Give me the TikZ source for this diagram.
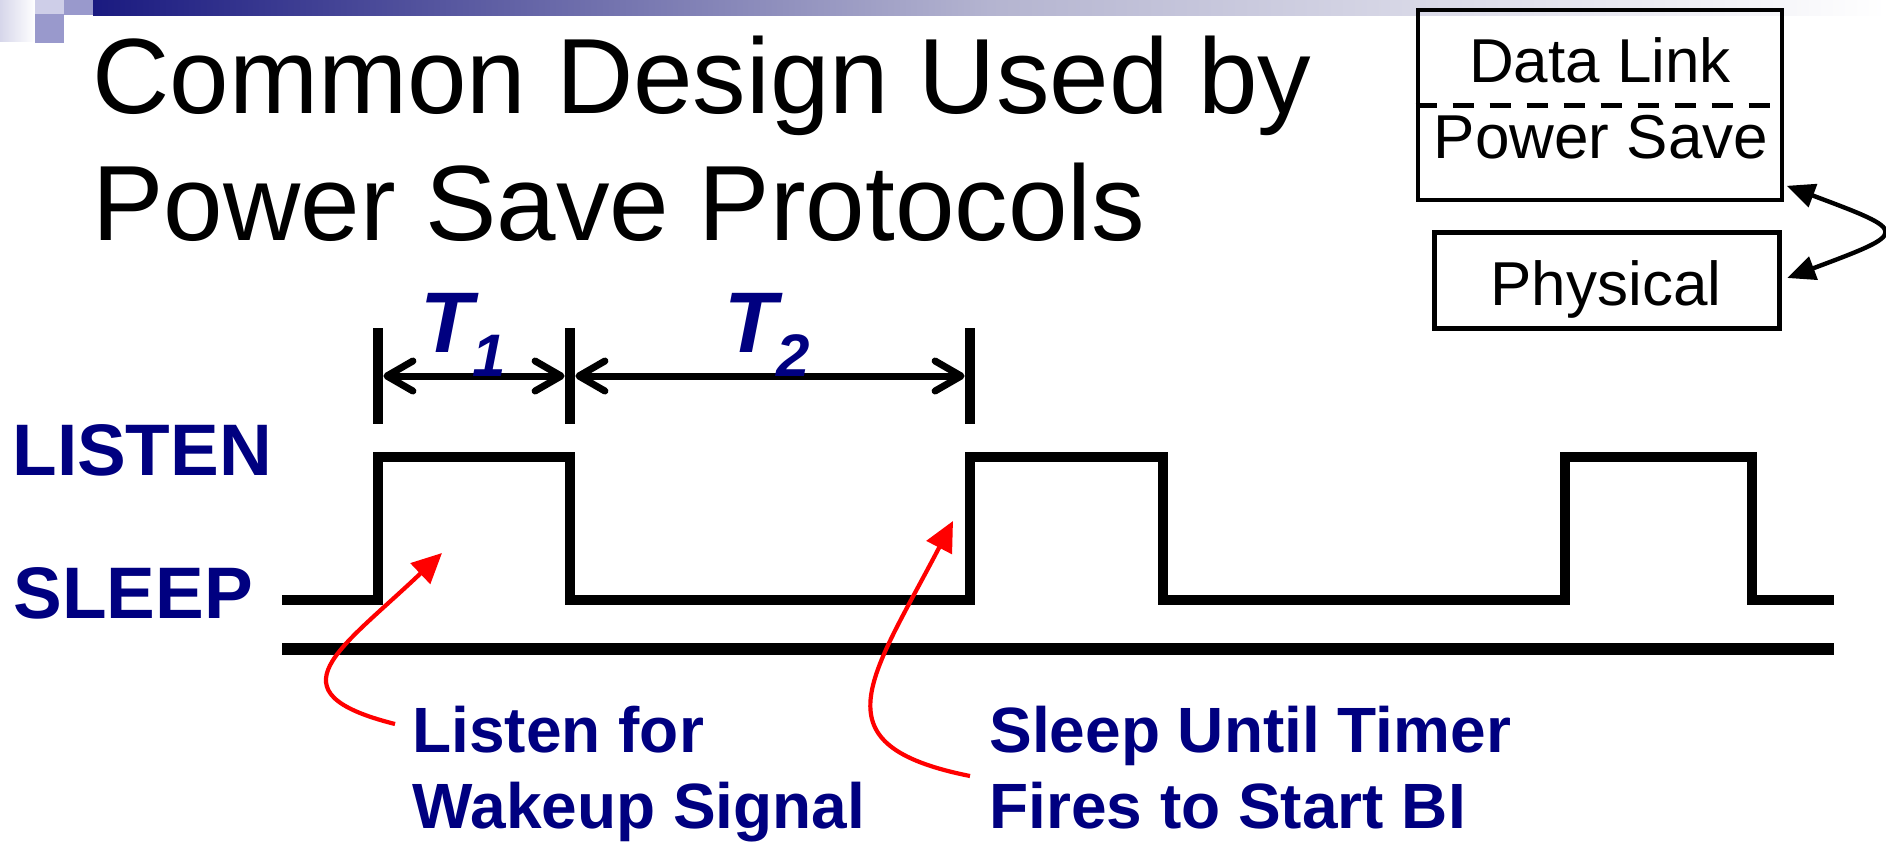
\documentclass[tikz,border=0pt]{standalone}
\usepackage{fontspec}
\setmainfont{Liberation Sans}
\usetikzlibrary{arrows.meta}

\definecolor{slidenavy}{RGB}{0,0,128}
\definecolor{barnavy}{RGB}{26,26,128}
\definecolor{barmid}{RGB}{180,180,208}
\definecolor{tilelight}{RGB}{206,206,232}
\definecolor{tiledark}{RGB}{153,153,204}
\definecolor{tilefade}{RGB}{214,214,234}

\begin{document}
\begin{tikzpicture}[
    x=0.5pt, y=-0.5pt,
    heading/.style={font=\fontsize{53.5}{64}\selectfont, inner sep=0, anchor=base west},
    layer/.style={draw, line width=2.3pt, inner sep=0},
    layertext/.style={font=\fontsize{31}{36}\selectfont, inner sep=0, anchor=base},
    statelabel/.style={font=\fontsize{36.5}{44}\selectfont\bfseries, text=slidenavy,
                       inner sep=0, anchor=base west},
    periodlabel/.style={font=\fontsize{43}{48}\selectfont\bfseries\itshape, text=slidenavy,
                        inner sep=0, anchor=base west},
    callout/.style={font=\fontsize{32}{38}\selectfont\bfseries, text=slidenavy, align=left,
                    inner sep=0, anchor=base west},
    wave/.style={line width=5.25pt},
    tickline/.style={line width=5.3pt},
    dimline/.style={line width=3.5pt,
                    {Straight Barb[round, length=13pt, width=15pt]}-{Straight Barb[round, length=13pt, width=15pt]},
                    shorten <=2.7pt, shorten >=2.7pt},
    hint/.style={red, line width=2.1pt, -{Triangle[length=15pt, width=14pt]}},
    swap/.style={line width=2.2pt, {Triangle[length=14pt, width=12pt]}-{Triangle[length=14pt, width=12pt]}}
  ]
  \useasboundingbox (0,0) rectangle (1886,842);

  % slide decoration
  \shade[left color=tilefade, right color=white] (0,0) rectangle (35,41);
  \fill[tilelight] (35,0) rectangle (64,14);
  \fill[tiledark] (64,0) rectangle (93,15);
  \fill[tiledark] (35,14) rectangle (64,43);
  \shade[left color=barnavy, right color=white, middle color=barmid] (93,0) rectangle (1886,15);

  \node[heading] (title1) at (92,113) {Common Design Used by};
  \node[heading] (title2) at (92,240) {Power Save Protocols};

  % layer stack
  \node[layer, minimum width=182pt, minimum height=95pt] (linkbox) at (1600,105) {};
  \draw[line width=2.5pt, dash pattern=on 10.5pt off 8pt] (linkbox.west) -- (linkbox.east);
  \node[layertext] (datalink) at (1600,82) {Data Link};
  \node[layertext] (powersave) at (1601,158) {Power Save};
  \node[layer, minimum width=172.5pt, minimum height=48pt] (physbox) at (1607,280.5) {};
  \node[layertext] (physical) at (1606,305) {Physical};
  \draw[swap] ([shift={(2.5,-16.5)}]linkbox.south east) .. controls (1910,232) and (1910,232)
    .. ([shift={(5.5,-2.5)}]physbox.east);

  % timing diagram
  \node[statelabel] (listen) at (12,475) {LISTEN};
  \node[statelabel] (sleep) at (13,618) {SLEEP};
  \draw[wave] (282,600) -| (378,457) -| (570,600) -| (970,457) -| (1163,600)
    -| (1565,457) -| (1752,600) -- (1834,600);
  \draw[wave, line width=5.75pt] (282,649) -- (1834,649);

  % T1 and T2
  \coordinate (d0) at (378,376);
  \coordinate (d1) at (570,376);
  \coordinate (d2) at (970,376);
  \foreach \d in {d0,d1,d2}
    \draw[tickline] ([yshift=24pt]\d) -- ([yshift=-24pt]\d);
  \draw[dimline] (d0) -- (d1);
  \draw[dimline] (d1) -- (d2);
  \node[periodlabel] (t1) at (420,352) {T{\fontsize{30}{30}\selectfont\raisebox{-12pt}{1}}};
  \node[periodlabel] (t2) at (724,352) {T{\fontsize{30}{30}\selectfont\raisebox{-12pt}{2}}};

  % "what happens" notes
  \node[callout] (wakeup) at (412,828) {Listen for\\Wakeup Signal};
  \node[callout] (timer) at (989,828) {Sleep Until Timer\\Fires to Start BI};
  \coordinate (wakeuptip) at (442,553);
  \coordinate (timertip) at (953,521);
  \draw[hint] ([shift={(-17,-104)}]wakeup.base west) .. controls (268,692) and (340,650) .. (wakeuptip);
  \draw[hint] ([shift={(-19,-52)}]timer.base west) .. controls (815,745) and (870,680) .. (timertip);

\end{tikzpicture}
\end{document}
